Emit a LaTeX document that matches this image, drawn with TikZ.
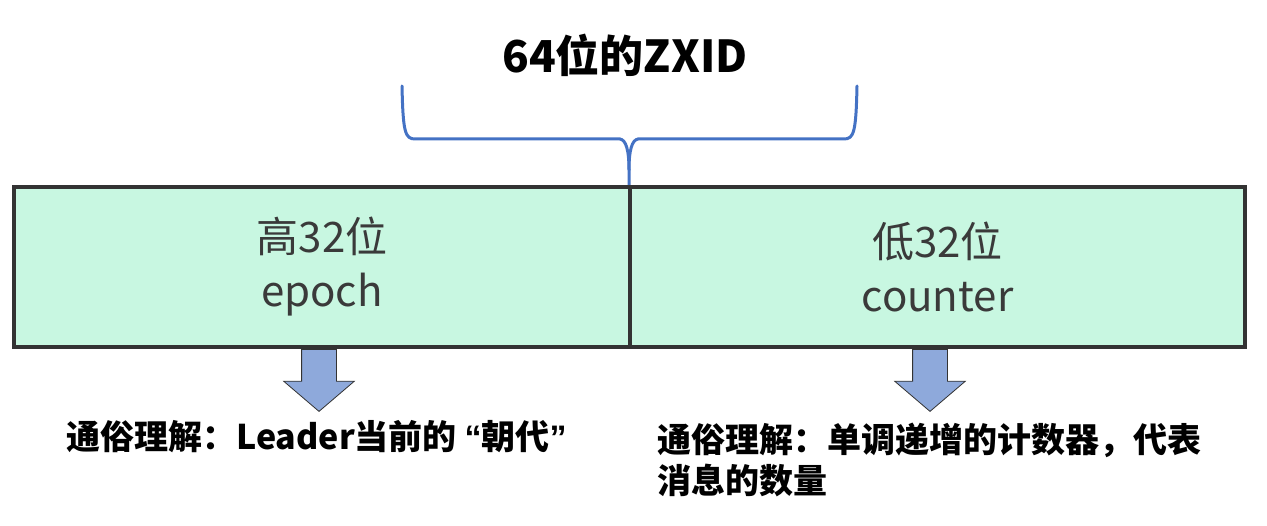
\documentclass[tikz,border=0pt]{standalone}
\usepackage{fontspec}
\setmainfont{Noto Sans CJK SC}
\newfontfamily\quotefont{Liberation Sans}
\usepackage{xcolor}
\usetikzlibrary{calc}
\usetikzlibrary{shapes.arrows}

\definecolor{cellfill}{HTML}{C8F7E1}
\definecolor{cellline}{HTML}{333333}
\definecolor{celltext}{HTML}{3A3A3A}
\definecolor{braceblue}{HTML}{4472C4}
\definecolor{arrowfill}{HTML}{8EA9DB}

\tikzset{
  cell/.style={draw=cellline, line width=4pt, fill=cellfill, rectangle,
    minimum height=160pt, inner sep=0pt, align=center, text=celltext,
    font=\fontsize{42}{53}\selectfont},
  bracepath/.style={draw=braceblue, line width=3pt, line cap=round},
  downarrow/.style={single arrow, draw=cellline, line width=0.8pt, fill=arrowfill,
    rotate=-90, anchor=tail, minimum height=62pt, minimum width=70pt, inner xsep=0pt,
    inner ysep=17pt, text height=0pt, text depth=0pt,
    single arrow head extend=18pt, single arrow tip angle=99},
  note/.style={anchor=north west, align=left, inner sep=0pt,
    font=\fontsize{34}{41}\selectfont\bfseries}
}

\begin{document}
\begin{tikzpicture}[x=1pt, y=-1pt]
    \useasboundingbox (0,0) rectangle (1267,526);
    % title and brace
    \node[font=\fontsize{44}{50}\selectfont\bfseries] (title) at (625,55) {64位的ZXID};
    \coordinate (bracetip) at (629,187);
    \draw[bracepath] (402,86) .. controls (403,132) and (405,139) .. (415,139) -- (620,139)
        .. controls (626,140) and (629,150) .. (629,170) -- (bracetip);
    \draw[bracepath] (857,86) .. controls (856,132) and (854,139) .. (844,139) -- (638,139)
        .. controls (632,140) and (629,150) .. (629,170);
    % the two halves
    \node[cell, minimum width=616pt] (high) at (322,267) {\raisebox{-3pt}{高32位}\\\raisebox{-4pt}{epoch}};
    \node[cell, minimum width=615pt] (low) at (937.5,267) {\raisebox{-3pt}{低32位}\\\raisebox{-4pt}{counter}};
    % arrows
    \node[downarrow] (higharrow) at (319,349) {};
    \node[downarrow] (lowarrow) at (930,349) {};
    % notes
    \node[note] (highnote) at (66,420) {通俗理解：Leader当前的 {\quotefont\bfseries “}朝代{\quotefont\bfseries ”}};
    \node[note] (lownote) at (657,423) {通俗理解：单调递增的计数器，代表\\消息的数量};
\end{tikzpicture}
\end{document}
